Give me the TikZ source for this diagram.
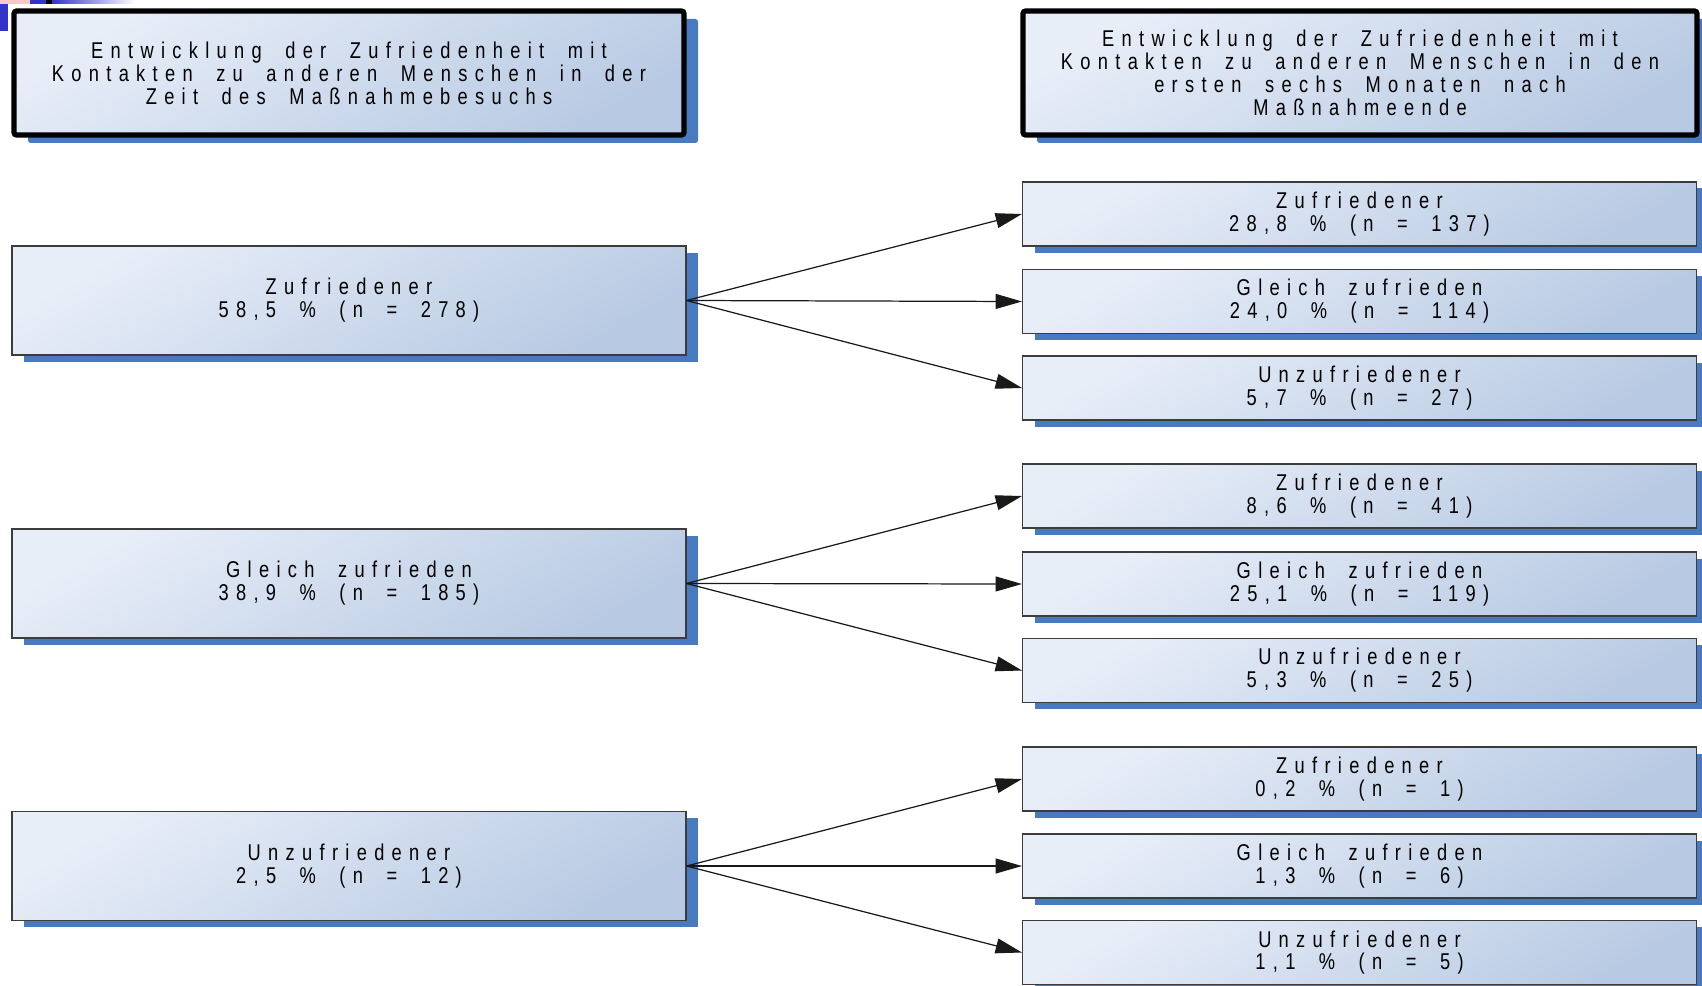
\documentclass[tikz,border=0pt]{standalone}
\usepackage{fontspec}
\setmainfont{Liberation Sans}[LetterSpace=32,FakeStretch=0.8,WordSpace=1.9]
\usetikzlibrary{arrows.meta,shadows}

\definecolor{boxlight}{RGB}{232,238,248}
\definecolor{boxdark}{RGB}{184,202,227}
\definecolor{shadowblue}{RGB}{72,122,192}
\definecolor{framegray}{RGB}{60,60,60}
\definecolor{cornerblue}{RGB}{51,51,204}
\definecolor{cornerpink}{RGB}{250,200,200}

\tikzset{
  panel/.style={top color=boxlight, bottom color=boxdark, shading angle=30,
    align=center, text=black, inner sep=0pt,
    font=\fontsize{13}{13}\selectfont},
  stat/.style={panel, draw=framegray, line width=0.6pt,
    minimum width=13.48cm, minimum height=1.28cm,
    drop shadow={shadow xshift=0.24cm, shadow yshift=-0.13cm, fill=shadowblue, opacity=1}},
  group/.style={stat, minimum height=2.18cm},
  title/.style={panel, draw=black, line width=3pt, rounded corners=1.5pt,
    minimum width=13.4cm, minimum height=2.48cm,
    drop shadow={shadow xshift=0.28cm, shadow yshift=-0.16cm, fill=shadowblue, opacity=1}},
  flow/.style={-{Triangle[length=15pt,width=8.5pt]}, line width=0.7pt, draw=black!90}
}

\begin{document}
\begin{tikzpicture}
\useasboundingbox (0,0) rectangle (34.04,-19.72);
% leftover bits in the corner
\fill[cornerpink] (0,0) rectangle (0.6,-0.08);
\fill[cornerblue] (0,-0.08) rectangle (0.16,-0.62);
\fill[cornerblue] (0.6,0) rectangle (0.92,-0.08);
\fill[black] (0.92,0) rectangle (1.04,-0.08);
\shade[left color=cornerblue, right color=white] (1.04,0) rectangle (2.7,-0.08);

\path node[title] (startHead) at (6.98,-1.46) {Entwicklung der Zufriedenheit mit\\Kontakten zu anderen Menschen in der\\Zeit des Maßnahmebesuchs}
node[title, minimum width=13.48cm] (endHead) at (27.2,-1.46) {Entwicklung der Zufriedenheit mit\\Kontakten zu anderen Menschen in den\\ersten sechs Monaten nach\\Maßnahmeende}
node[group] (zufr) at (6.98,-6.01) {Zufriedener\\58,5 \% (n = 278)}
node[group] (glei) at (6.98,-11.67) {Gleich zufrieden\\38,9 \% (n = 185)}
node[group] (unzu) at (6.98,-17.32) {Unzufriedener\\2,5 \% (n = 12)}
node[stat] (zufrZ) at (27.19,-4.28) {Zufriedener\\28,8 \% (n = 137)}
node[stat] (zufrG) at (27.19,-6.03) {Gleich zufrieden\\24,0 \% (n = 114)}
node[stat] (zufrU) at (27.19,-7.76) {Unzufriedener\\5,7 \% (n = 27)}
node[stat] (gleiZ) at (27.19,-9.92) {Zufriedener\\8,6 \% (n = 41)}
node[stat] (gleiG) at (27.19,-11.68) {Gleich zufrieden\\25,1 \% (n = 119)}
node[stat] (gleiU) at (27.19,-13.41) {Unzufriedener\\5,3 \% (n = 25)}
node[stat] (unzuZ) at (27.19,-15.58) {Zufriedener\\0,2 \% (n = 1)}
node[stat] (unzuG) at (27.19,-17.32) {Gleich zufrieden\\1,3 \% (n = 6)}
node[stat] (unzuU) at (27.19,-19.05) {Unzufriedener\\1,1 \% (n = 5)}
;
\draw[flow] (zufr.east) -- (zufrZ.west);
\draw[flow] (zufr.east) -- (zufrG.west);
\draw[flow] (zufr.east) -- (zufrU.west);
\draw[flow] (glei.east) -- (gleiZ.west);
\draw[flow] (glei.east) -- (gleiG.west);
\draw[flow] (glei.east) -- (gleiU.west);
\draw[flow] (unzu.east) -- (unzuZ.west);
\draw[flow] (unzu.east) -- (unzuG.west);
\draw[flow] (unzu.east) -- (unzuU.west);
\end{tikzpicture}
\end{document}
